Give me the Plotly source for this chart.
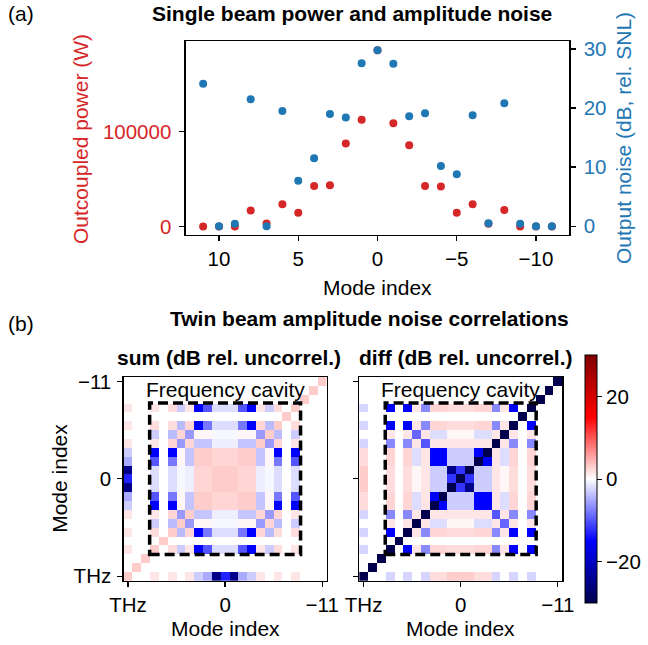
import plotly.graph_objects as go

W, H = 648, 645
def px(x): return x / W
def py(y): return 1 - y / H

RED = '#d62728'
BLUE = '#1f77b4'
FONT = 'Liberation Sans, Arial, sans-serif'
TICK_FS = 20.5
LABEL_FS = 21

# ---------------- (a) single beam data ----------------
modes = [11, 10, 9, 8, 7, 6, 5, 4, 3, 2, 1, 0, -1, -2, -3, -4, -5, -6, -7, -8, -9, -10, -11]
power_W = [0, 0, 0, 16800, 3200, 23500, 14400, 42500, 43500, 87400, 112300, 185500,
           108800, 85600, 42500, 42100, 14400, 23500, 2800, 17200, 0, 0, 0]
noise_dB = [24.1, 0, 0.4, 21.5, 0, 19.5, 7.7, 11.5, 19.0, 18.4, 27.6, 29.8,
            27.5, 18.6, 19.1, 10.2, 8.8, 18.8, 0.5, 20.8, 0.4, 0, 0]
top_ticks = [10, 5, 0, -5, -10]
top_ticktext = ['10', '5', '0', '\u22125', '\u221210']

# ---------------- (b) correlation maps (rows: mode 11 .. -11, cols: mode 11 .. -11) ----------------
hm_ticks = [11, 0, -11]
hm_ticktext = ['THz', '0', '\u221211']

sum_db = [
    [3, 0, 0, 1.5, 0, 1.5, 0, 1.5, -3, -5, -25, -13, -25, -5, -3, 1.5, 0, 1.5, 0, 1.5, 0, 0, 0],
    [0, 3, 0, 0, 0, 0, 0, 0, 0, 0, 0, 0, 0, 0, 0, 0, 0, 0, 0, 0, 0, 0, 0],
    [0, 0, 3, 0, 0, 0, 0, 0, 0, 0, 0, 0, 0, 0, 0, 0, 0, 0, 0, 0, 0, 0, 0],
    [1.5, 0, 0, 3, 0, 2, -3, 1.5, -15, -10, -2, -2, -2, -10, -15, 1.5, -3, 2, 0, 1.5, 0, 0, 0],
    [0, 0, 0, 0, 3, 0, 0, 0, 0, 0, 0, 0, 0, 0, 0, 0, 0, 0, 0, 0, 0, 0, 0],
    [1.5, 0, 0, 2, 0, 3, -4, 2.5, -15, -8, -2, -2, -2, -8, -15, 2.5, -4, 2, 0, 2, 0, 0, 0],
    [0, 0, 0, -3, 0, -4, 3, -6, 0.5, 0.5, -0.5, -0.5, -0.5, 0.5, 0.5, -6, 2.5, -4, 0, -3, 0, 0, 0],
    [1.5, 0, 0, 1.5, 0, 2.5, -6, 3, -3.5, -3.5, -1, -1, -1, -3.5, -3.5, 2.5, -6, 2.5, 0, 1.5, 0, 0, 0],
    [-3, 0, 0, -15, 0, -15, 0.5, -3.5, 3, 3, 2.5, 2.5, 2.5, 3, 3, -3.5, 0.5, -15, 0, -15, 0, 0, 0],
    [-5, 0, 0, -10, 0, -8, 0.5, -3.5, 3, 3, 2.5, 2.5, 2.5, 3, 3, -3.5, 0.5, -8, 0, -10, 0, 0, 0],
    [-25, 0, 0, -2, 0, -2, -0.5, -1, 2.5, 2.5, 3, 3, 3, 2.5, 2.5, -1, -0.5, -2, 0, -2, 0, 0, 0],
    [-13, 0, 0, -2, 0, -2, -0.5, -1, 2.5, 2.5, 3, 3, 3, 2.5, 2.5, -1, -0.5, -2, 0, -2, 0, 0, 0],
    [-25, 0, 0, -2, 0, -2, -0.5, -1, 2.5, 2.5, 3, 3, 3, 2.5, 2.5, -1, -0.5, -2, 0, -2, 0, 0, 0],
    [-5, 0, 0, -10, 0, -8, 0.5, -3.5, 3, 3, 2.5, 2.5, 2.5, 3, 3, -3.5, 0.5, -8, 0, -10, 0, 0, 0],
    [-3, 0, 0, -15, 0, -15, 0.5, -3.5, 3, 3, 2.5, 2.5, 2.5, 3, 3, -3.5, 0.5, -15, 0, -15, 0, 0, 0],
    [1.5, 0, 0, 1.5, 0, 2.5, -6, 2.5, -3.5, -3.5, -1, -1, -1, -3.5, -3.5, 3, -6, 2.5, 0, 1.5, 0, 0, 0],
    [0, 0, 0, -3, 0, -4, 2.5, -6, 0.5, 0.5, -0.5, -0.5, -0.5, 0.5, 0.5, -6, 3, -4, 0, -3, 0, 0, 0],
    [1.5, 0, 0, 2, 0, 2, -4, 2.5, -15, -8, -2, -2, -2, -8, -15, 2.5, -4, 3, 0, 2, 0, 0, 0],
    [0, 0, 0, 0, 0, 0, 0, 0, 0, 0, 0, 0, 0, 0, 0, 0, 0, 0, 3, 0, 0, 0, 0],
    [1.5, 0, 0, 1.5, 0, 2, -3, 1.5, -15, -10, -2, -2, -2, -10, -15, 1.5, -3, 2, 0, 3, 0, 0, 0],
    [0, 0, 0, 0, 0, 0, 0, 0, 0, 0, 0, 0, 0, 0, 0, 0, 0, 0, 0, 0, 3, 0, 0],
    [0, 0, 0, 0, 0, 0, 0, 0, 0, 0, 0, 0, 0, 0, 0, 0, 0, 0, 0, 0, 0, 3, 0],
    [0, 0, 0, 0, 0, 0, 0, 0, 0, 0, 0, 0, 0, 0, 0, 0, 0, 0, 0, 0, 0, 0, 3],
]

diff_db = [
    [-30, 0, 0, -2.5, 0, -2.5, 0, -2.5, 2, 2, 3, 3, 3, 2, 2, -2.5, 0, -2.5, 0, -2.5, 0, 0, 0],
    [0, -30, 0, 0, 0, 0, 0, 0, 0, 0, 0, 0, 0, 0, 0, 0, 0, 0, 0, 0, 0, 0, 0],
    [0, 0, -30, 0, 0, 0, 0, 0, 0, 0, 0, 0, 0, 0, 0, 0, 0, 0, 0, 0, 0, 0, 0],
    [-2.5, 0, 0, -30, 0, -15, 1.5, -7, 2.5, 2.5, 2, 2, 2, 2.5, 2.5, -7, 1.5, -15, 0, -15, 0, 0, 0],
    [0, 0, 0, 0, -30, 0, 0, 0, 0, 0, 0, 0, 0, 0, 0, 0, 0, 0, 0, 0, 0, 0, 0],
    [-2.5, 0, 0, -15, 0, -30, 1.5, -7, 2.5, 2.5, 2, 2, 2, 2.5, 2.5, -7, 1.5, -15, 0, -15, 0, 0, 0],
    [0, 0, 0, 1.5, 0, 1.5, -30, 1.5, -2, -2, 0.5, 0.5, 0.5, -2, -2, 1.5, -9, 1.5, 0, 1.5, 0, 0, 0],
    [-2.5, 0, 0, -7, 0, -7, 1.5, -30, 1.5, 1.5, 1.5, 1.5, 1.5, 1.5, 1.5, -10, 1.5, -7, 0, -7, 0, 0, 0],
    [2, 0, 0, 2.5, 0, 2.5, -2, 1.5, -30, -15, -3, -3, -3, -15, -15, 1.5, -2, 2.5, 0, 2.5, 0, 0, 0],
    [2, 0, 0, 2.5, 0, 2.5, -2, 1.5, -15, -30, -3, -3, -3, -15, -15, 1.5, -2, 2.5, 0, 2.5, 0, 0, 0],
    [3, 0, 0, 2, 0, 2, 0.5, 1.5, -3, -3, -30, -12, -25, -3, -3, 1.5, 0.5, 2, 0, 2, 0, 0, 0],
    [3, 0, 0, 2, 0, 2, 0.5, 1.5, -3, -3, -12, -30, -12, -3, -3, 1.5, 0.5, 2, 0, 2, 0, 0, 0],
    [3, 0, 0, 2, 0, 2, 0.5, 1.5, -3, -3, -25, -12, -30, -3, -3, 1.5, 0.5, 2, 0, 2, 0, 0, 0],
    [2, 0, 0, 2.5, 0, 2.5, -2, 1.5, -15, -15, -3, -3, -3, -30, -15, 1.5, -2, 2.5, 0, 2.5, 0, 0, 0],
    [2, 0, 0, 2.5, 0, 2.5, -2, 1.5, -15, -15, -3, -3, -3, -15, -30, 1.5, -2, 2.5, 0, 2.5, 0, 0, 0],
    [-2.5, 0, 0, -7, 0, -7, 1.5, -10, 1.5, 1.5, 1.5, 1.5, 1.5, 1.5, 1.5, -30, 1.5, -7, 0, -7, 0, 0, 0],
    [0, 0, 0, 1.5, 0, 1.5, -9, 1.5, -2, -2, 0.5, 0.5, 0.5, -2, -2, 1.5, -30, 1.5, 0, 1.5, 0, 0, 0],
    [-2.5, 0, 0, -15, 0, -15, 1.5, -7, 2.5, 2.5, 2, 2, 2, 2.5, 2.5, -7, 1.5, -30, 0, -15, 0, 0, 0],
    [0, 0, 0, 0, 0, 0, 0, 0, 0, 0, 0, 0, 0, 0, 0, 0, 0, 0, -30, 0, 0, 0, 0],
    [-2.5, 0, 0, -15, 0, -15, 1.5, -7, 2.5, 2.5, 2, 2, 2, 2.5, 2.5, -7, 1.5, -15, 0, -30, 0, 0, 0],
    [0, 0, 0, 0, 0, 0, 0, 0, 0, 0, 0, 0, 0, 0, 0, 0, 0, 0, 0, 0, -30, 0, 0],
    [0, 0, 0, 0, 0, 0, 0, 0, 0, 0, 0, 0, 0, 0, 0, 0, 0, 0, 0, 0, 0, -30, 0],
    [0, 0, 0, 0, 0, 0, 0, 0, 0, 0, 0, 0, 0, 0, 0, 0, 0, 0, 0, 0, 0, 0, -30],
]

cavity_edge = 8.55
cbar_ticks = [-20, 0, 20]
cbar_ticktext = ['\u221220', '0', '20']

seismic = [[0.0, 'rgb(0,0,77)'], [0.25, 'rgb(0,0,255)'], [0.5, 'rgb(255,255,255)'],
           [0.75, 'rgb(255,0,0)'], [1.0, 'rgb(128,0,0)']]

fig = go.Figure()

fig.add_trace(go.Scatter(x=modes, y=power_W, mode='markers', xaxis='x', yaxis='y',
                         marker=dict(color=RED, size=8, line=dict(width=0)), hoverinfo='skip'))
fig.add_trace(go.Scatter(x=modes, y=noise_dB, mode='markers', xaxis='x', yaxis='y2',
                         marker=dict(color=BLUE, size=8, line=dict(width=0)), hoverinfo='skip'))

fig.add_trace(go.Heatmap(z=sum_db, x=modes, y=modes, xaxis='x3', yaxis='y3',
                         colorscale=seismic, zmin=-30, zmax=30, showscale=False))
fig.add_trace(go.Heatmap(z=diff_db, x=modes, y=modes, xaxis='x4', yaxis='y4',
                         colorscale=seismic, zmin=-30, zmax=30, showscale=True,
                         colorbar=dict(x=px(585), xanchor='left', y=py(479.2), yanchor='middle',
                                       len=248.3 / H, lenmode='fraction', thickness=11.7,
                                       thicknessmode='pixels', xpad=0, ypad=0,
                                       outlinewidth=1, outlinecolor='black',
                                       tickvals=cbar_ticks, ticktext=cbar_ticktext,
                                       ticks='outside', ticklen=5, tickwidth=1.2, tickcolor='black',
                                       tickfont=dict(size=TICK_FS, color='black', family=FONT))))

LW = 1.3
common = dict(showgrid=False, zeroline=False, showline=True, linecolor='black', linewidth=LW,
              ticks='outside', ticklen=5, tickwidth=LW, tickcolor='black', automargin=False,
              tickfont=dict(size=TICK_FS, color='black', family=FONT))

def nofont(d):
    return {k: v for k, v in d.items() if k != 'tickfont'}

fig.update_layout(
    width=W, height=H, margin=dict(l=0, r=0, t=0, b=0, pad=0, autoexpand=False),
    paper_bgcolor='white', plot_bgcolor='white', showlegend=False,
    font=dict(family=FONT, size=LABEL_FS, color='black'),
    xaxis=dict(domain=[px(185.7), px(569.3)], anchor='y', range=[12.1, -12.1],
               tickvals=top_ticks, ticktext=top_ticktext, mirror=True, **common),
    yaxis=dict(domain=[py(235), py(41.3)], anchor='x', range=[-9000, 195000],
               tickvals=[0, 100000], ticktext=['0', '100000'], mirror=True, ticklabelstandoff=4,
               **nofont(common), tickfont=dict(size=TICK_FS, color=RED, family=FONT)),
    yaxis2=dict(overlaying='y', side='right', anchor='x', range=[-1.49, 31.3],
                tickvals=[0, 10, 20, 30], ticklabelstandoff=4,
                **nofont(common), tickfont=dict(size=TICK_FS, color=BLUE, family=FONT)),
    xaxis3=dict(domain=[px(123.6), px(326.6)], anchor='y3', range=[11.5, -11.5],
                tickvals=hm_ticks, ticktext=hm_ticktext, mirror=True, **common),
    yaxis3=dict(domain=[py(580.7), py(376.9)], anchor='x3', range=[11.5, -11.5],
                tickvals=hm_ticks, ticktext=hm_ticktext, mirror=True, ticklabelstandoff=2, **common),
    xaxis4=dict(domain=[px(359.2), px(562.2)], anchor='y4', range=[11.5, -11.5],
                tickvals=hm_ticks, ticktext=hm_ticktext, mirror=True, **common),
    yaxis4=dict(domain=[py(580.7), py(376.9)], anchor='x4', range=[11.5, -11.5],
                tickvals=hm_ticks, showticklabels=False, mirror=True, **common),
)

for xr, yr in (('x3', 'y3'), ('x4', 'y4')):
    fig.add_shape(type='rect', xref=xr, yref=yr, x0=cavity_edge, x1=-cavity_edge,
                  y0=cavity_edge, y1=-cavity_edge,
                  line=dict(color='black', width=3.5, dash='10px,5px'))

def ann(text, x, y, size=LABEL_FS, color='black', angle=0, xanchor='center', xref='paper', bold=False):
    fig.add_annotation(text=('<b>%s</b>' % text) if bold else text, x=x, y=y, xref=xref, yref='paper',
                       xanchor=xanchor, yanchor='middle', showarrow=False, textangle=angle,
                       font=dict(size=size, color=color, family=FONT))

ann('(a)', px(6), py(13), xanchor='left')
ann('Single beam power and amplitude noise', px(352), py(13), bold=True)
ann('Mode index', px(377.5), py(287))
ann('Outcoupled power (W)', px(80), py(139), color=RED, angle=-90)
ann('Output noise (dB, rel. SNL)', px(623), py(138), color=BLUE, angle=-90)

ann('(b)', px(6), py(323), xanchor='left')
ann('Twin beam amplitude noise correlations', px(369), py(318), bold=True)
ann('sum (dB rel. uncorrel.)', px(229), py(357), bold=True)
ann('diff (dB rel. uncorrel.)', px(466), py(357), bold=True)
ann('Frequency cavity', 0, py(389.5), xref='x3')
ann('Frequency cavity', 0, py(389.5), xref='x4')
ann('Mode index', px(60), py(478.8), angle=-90)
ann('Mode index', px(225), py(628))
ann('Mode index', px(460.7), py(628))

fig.write_html('out.html', config={'displayModeBar': False, 'staticPlot': True},
               post_script="document.body.style.margin='0px';document.body.style.padding='0px';")
